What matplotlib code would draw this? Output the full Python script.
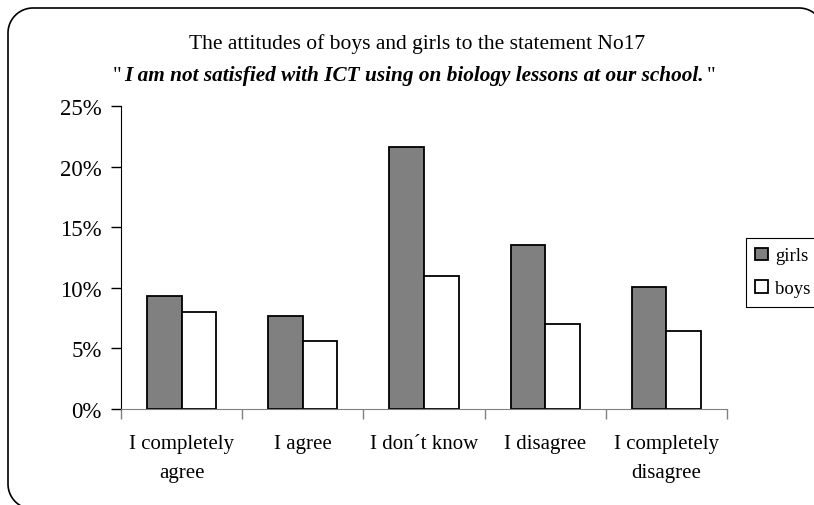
import numpy as np
import matplotlib.pyplot as plt
from matplotlib.offsetbox import TextArea, HPacker, AnchoredOffsetbox

plt.rcParams['font.family'] = ['Liberation Serif', 'DejaVu Serif']
plt.rcParams['savefig.bbox'] = 'standard'

# ---------------------------------------------------------------- #
categories = ["I completely\nagree", "I agree", "I don´t know", "I disagree", "I completely\ndisagree"]
girls = [9.3, 7.7, 21.6, 13.5, 10.1]
boys = [8.0, 5.6, 11.0, 7.0, 6.4]
y_ticks = [0, 5, 10, 15, 20, 25]
y_tick_labels = [f"{v}%" for v in y_ticks]

title_1 = "The attitudes of boys and girls to the statement No17"
title_2 = "I am not satisfied with ICT using on biology lessons at our school."

# ---------------- #
W, H = 814, 506
fig = plt.figure(figsize=(W/100, H/100), dpi=100)

# rounded frame round the chart, pixel coords; right and bottom edges run off the picture
ax_frame = fig.add_axes([0, 0, 1, 1], zorder=-1)
ax_frame.set_xlim(0, W)
ax_frame.set_ylim(H, 0)
ax_frame.axis('off')
r = 25
left, top, right, bottom = 8, 9, 824, 510
t = np.linspace(0, np.pi/2, 30)
fx = np.concatenate([[W + 5], left + r - r*np.sin(t), left + r - r*np.cos(t), right - r + r*np.sin(t)])
fy = np.concatenate([[bottom], bottom - r + r*np.cos(t), top + r - r*np.sin(t), top + r - r*np.cos(t)])
ax_frame.plot(fx, fy, color='black', lw=1.2)

ax = fig.add_axes([121/W, 96/H, 606/W, 303/H])
ax.set_facecolor('none')

x = np.arange(len(categories))
width = 0.285
ax.bar(x - width/2, girls, width, color='#808080', edgecolor='black', linewidth=1.3, label='girls')
ax.bar(x + width/2, boys, width, color='white', edgecolor='black', linewidth=1.3, label='boys')

ax.set_xlim(-0.5, len(categories) - 0.5)
ax.set_ylim(0, 25)
ax.set_yticks(y_ticks)
ax.set_yticklabels(y_tick_labels, fontsize=16.5)
ax.tick_params(axis='y', length=7, width=1, pad=7, color='black')

# category labels at centres, ticks at boundaries
ax.set_xticks(x)
ax.set_xticklabels(categories, fontsize=15, linespacing=1.75)
ax.tick_params(axis='x', which='major', length=0, pad=18)
ax.set_xticks(np.arange(-0.5, len(categories)), minor=True)
ax.tick_params(axis='x', which='minor', length=7, width=1, color='#808080')

ax.spines['top'].set_visible(False)
ax.spines['right'].set_visible(False)
ax.spines['left'].set_color('black')
ax.spines['bottom'].set_color('#808080')

leg = ax.legend(loc='upper left', bbox_to_anchor=(746/W, (H-239)/H), bbox_transform=fig.transFigure,
                fontsize=13.5, frameon=True, fancybox=False, edgecolor='black', framealpha=1,
                handlelength=0.65, handleheight=0.65, handletextpad=0.4, borderpad=0.5, labelspacing=0.85,
                borderaxespad=0)
leg.get_frame().set_linewidth(0.8)

# titles
fig.text(417/W, 1 - 44.5/H, title_1, ha='center', va='center', fontsize=15.5)
parts = [TextArea('"', textprops=dict(fontsize=15.3)),
         TextArea(title_2, textprops=dict(fontsize=15.3, fontweight='bold', style='italic')),
         TextArea('"', textprops=dict(fontsize=15.3))]
box = HPacker(children=parts, align='baseline', pad=0, sep=2)
anchored = AnchoredOffsetbox(loc='center', child=box, pad=0, frameon=False,
                             bbox_to_anchor=(414/W, 1 - 76/H), bbox_transform=fig.transFigure,
                             borderpad=0)
fig.add_artist(anchored)

fig.savefig("out.png", dpi=100)
